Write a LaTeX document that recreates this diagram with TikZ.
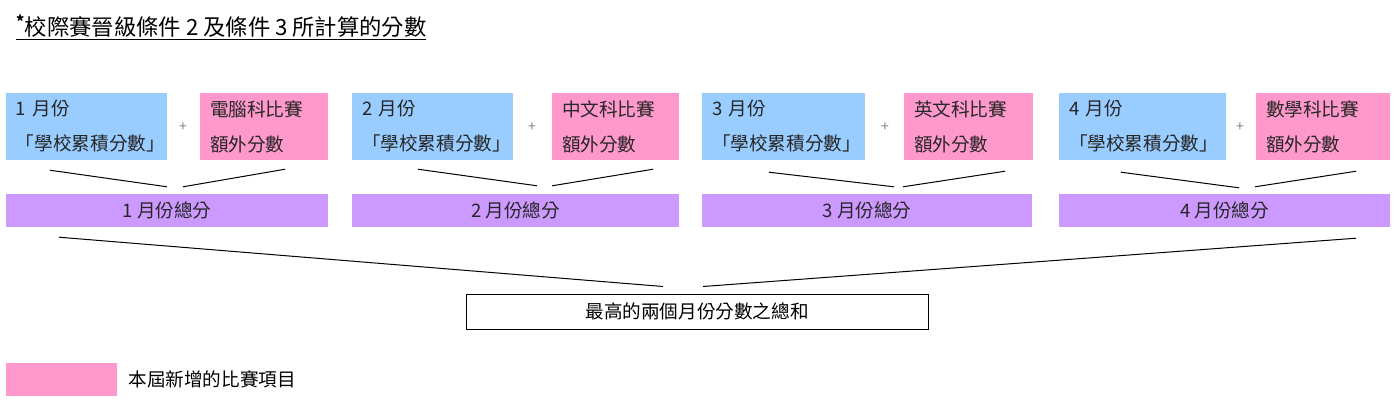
\documentclass[tikz,border=0pt]{standalone}
\usepackage{fontspec}
\newfontfamily\cjk{Noto Sans CJK TC}
\usetikzlibrary{positioning,calc}
\definecolor{monthblue}{HTML}{99CCFF}
\definecolor{extrapink}{HTML}{FF99CC}
\definecolor{totalpurple}{HTML}{CC99FF}
\tikzset{
  box/.style={inner xsep=10pt, inner ysep=0pt, minimum height=67pt, align=left, font=\cjk\fontsize{18.6}{35}\selectfont, text=black!85},
  monthbox/.style={box, fill=monthblue},
  extrabox/.style={box, fill=extrapink},
  totalbox/.style={fill=totalpurple, minimum height=33pt, inner sep=0pt, font=\cjk\fontsize{18.6}{22}\selectfont, text=black!85},
  plus/.style={inner sep=0pt, font=\cjk\fontsize{14}{14}\selectfont, text=gray},
  link/.style={line width=1pt}
}

\begin{document}
\begin{tikzpicture}[x=1pt,y=-1pt]
\useasboundingbox (0,0) rectangle (1396,401);
\node[anchor=base west, inner sep=0pt, font=\cjk\fontsize{22.3}{24}\selectfont] (title) at (16,35.5) {\underline{\textsuperscript{\textbf{*}}校際賽晉級條件 2 及條件 3 所計算的分數}};

\node[monthbox, text width=141pt] (m1) at (86.5,126.5) {1 月份\\「學校累積分數」};
\node[extrabox, text width=108pt] (e1) at (264,126.5) {電腦科比賽\\額外分數};
\node[plus] (plus1) at (183,127) {+};
\node[totalbox, minimum width=322pt] (t1) at (167,210.5) {1 月份總分};

\node[monthbox, text width=141pt] (m2) at (432.5,126.5) {2 月份\\「學校累積分數」};
\node[extrabox, text width=107pt] (e2) at (615.5,126.5) {中文科比賽\\額外分數};
\node[plus] (plus2) at (532,127) {+};
\node[totalbox, minimum width=327pt] (t2) at (515.5,210.5) {2 月份總分};

\node[monthbox, text width=143pt] (m3) at (783.5,126.5) {3 月份\\「學校累積分數」};
\node[extrabox, text width=109pt] (e3) at (968.5,126.5) {英文科比賽\\額外分數};
\node[plus] (plus3) at (885,127) {+};
\node[totalbox, minimum width=330pt] (t3) at (867,210.5) {3 月份總分};

\node[monthbox, text width=147pt] (m4) at (1142.5,126.5) {4 月份\\「學校累積分數」};
\node[extrabox, text width=114pt] (e4) at (1323,126.5) {數學科比賽\\額外分數};
\node[plus] (plus4) at (1240,127) {+};
\node[totalbox, minimum width=331pt] (t4) at (1224.5,210.5) {4 月份總分};

\node[draw, line width=1pt, minimum width=462pt, minimum height=35pt, inner sep=0pt, font=\cjk\fontsize{18.6}{22}\selectfont] (sum) at (697,311.5) {最高的兩個月份分數之總和};

% month parts into month totals
\draw[link] ($(m1.south west)+(44,10)$) -- ($(t1.north)+(0,-7)$);
\draw[link] ($(t1.north)+(16,-7)$) -- ($(e1.south east)+(-43,9)$);
\draw[link] ($(m2.south west)+(66,9)$) -- ($(t2.north)+(21.5,-8)$);
\draw[link] ($(t2.north)+(36.5,-8)$) -- ($(e2.south east)+(-26,9)$);
\draw[link] ($(m3.south west)+(67,12)$) -- ($(t3.north)+(27,-7)$);
\draw[link] ($(t3.north)+(36,-7)$) -- ($(e3.south east)+(-28,11)$);
\draw[link] ($(m4.south west)+(62,12)$) -- ($(t4.north)+(14.5,-6)$);
\draw[link] ($(t4.north)+(30.5,-7)$) -- ($(e4.south east)+(-34,11)$);

% totals into the sum
\draw[link] ($(t1.south west)+(53,10)$) -- ($(sum.north)+(-34,-7)$);
\draw[link] ($(sum.north)+(6,-7)$) -- ($(t4.south east)+(-34,11)$);

\node[fill=extrapink, minimum width=111pt, minimum height=33pt, inner sep=0pt] (legend) at (61.5,379.5) {};
\node[right=11pt of legend, inner sep=0pt, font=\cjk\fontsize{18.6}{22}\selectfont] (legendtext) {本屆新增的比賽項目};
\end{tikzpicture}
\end{document}
